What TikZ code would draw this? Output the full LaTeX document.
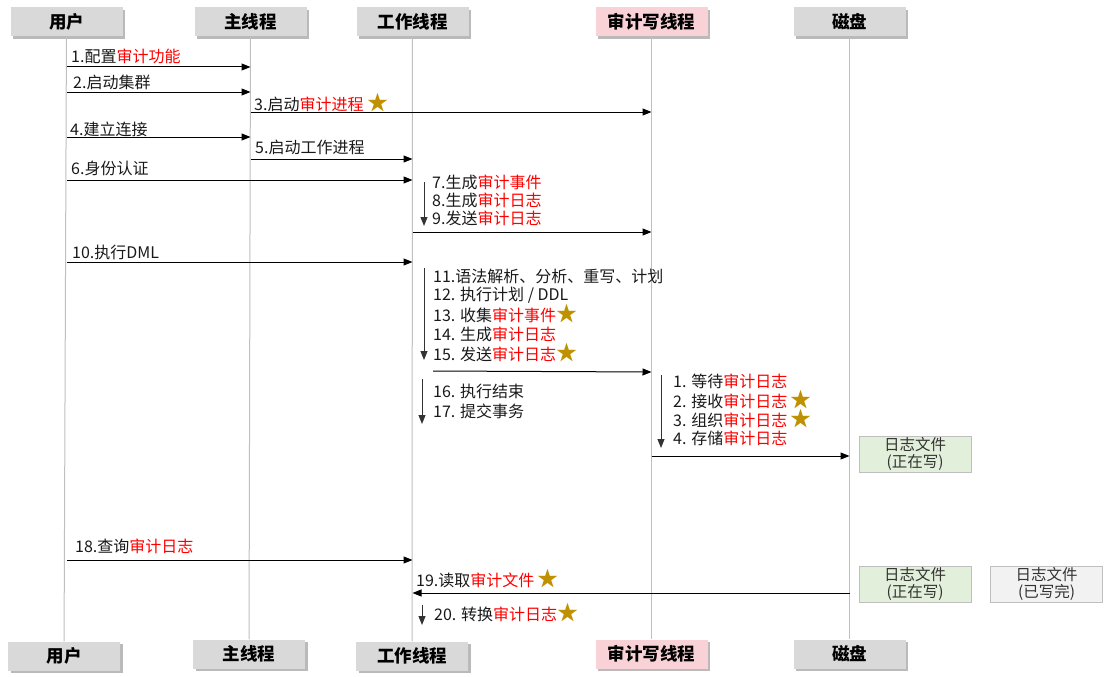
\documentclass[tikz,border=0pt]{standalone}
\usepackage{fontspec}
\setmainfont{Noto Sans CJK SC}
\usetikzlibrary{arrows.meta,shadows}
\definecolor{hdgray}{HTML}{D9D9D9}
\definecolor{hdpink}{HTML}{F9D2D7}
\definecolor{lifegray}{HTML}{BFBFBF}
\definecolor{redtxt}{HTML}{FF0000}
\definecolor{stargold}{HTML}{BF9000}
\definecolor{filegreen}{HTML}{E2EFDA}
\definecolor{filegray}{HTML}{F2F2F2}
\newcommand{\hl}[1]{\textcolor{redtxt}{#1}}
\newcommand{\gstar}{\textcolor{stargold}{\fontsize{21}{21}\selectfont ★}}
\tikzset{
  hd/.style={fill=hdgray,minimum width=112pt,minimum height=29pt,inner sep=0pt,
    font=\fontsize{17.5}{17}\selectfont\bfseries,
    drop shadow={shadow xshift=2.5pt,shadow yshift=-2.5pt,fill=black!60,opacity=.45}},
  life/.style={draw=lifegray,line width=1pt},
  msg/.style={-{Triangle[length=9pt,width=7pt]},line width=1pt},
  down/.style={-{Triangle[length=9pt,width=7pt]},line width=1pt,black!80},
  lbl/.style={anchor=west,inner sep=0pt,text=black!90,font=\fontsize{16}{18}\selectfont},
  logfile/.style={draw=black!25,line width=.8pt,fill=filegreen,minimum width=112pt,
    minimum height=36pt,inner sep=0pt,align=center,text=black!80,font=\fontsize{15.5}{17}\selectfont}
}
\begin{document}
\begin{tikzpicture}[x=1pt,y=-1pt]
\useasboundingbox (0,0) rectangle (1111,677);
% heads
\node[hd](user)at(66.5,22){用户};
\node[hd](main)at(250.5,22){主线程};
\node[hd](work)at(412.5,22){工作线程};
\node[hd,fill=hdpink](audit)at(651.5,22){审计写线程};
\node[hd](disk)at(849.5,22){磁盘};
\node[hd](userb)at(64,656){用户};
\node[hd](mainb)at(249,654){主线程};
\node[hd](workb)at(412,656){工作线程};
\node[hd,fill=hdpink](auditb)at(651.5,654){审计写线程};
\node[hd](diskb)at(849.5,654){磁盘};
% lifelines
\foreach \a in {user,main,work,audit,disk}
  \draw[life](\a)--(\a b);
% start up
\node[lbl](l1)at(71,56){1.配置\hl{审计功能}};
\draw[msg](user|-0,67)--(main|-0,67);
\node[lbl](l2)at(73,82){2.启动集群};
\draw[msg](user|-0,92)--(main|-0,92);
\node[lbl](l3)at(254,103){3.启动\hl{审计进程} \gstar};
\draw[msg](main|-0,112)--(audit|-0,112);
\node[lbl](l4)at(70,129){4.建立连接};
\draw[msg](user|-0,137)--(main|-0,137);
\node[lbl](l5)at(255,147){5.启动工作进程};
\draw[msg](main|-0,159)--(work|-0,159);
\node[lbl](l6)at(71,168){6.身份认证};
\draw[msg](user|-0,180)--(work|-0,180);
\node[lbl](l7)at(432,182){7.生成\hl{审计事件}};
\node[lbl](l8)at(432,200){8.生成\hl{审计日志}};
\node[lbl](l9)at(432,218){9.发送\hl{审计日志}};
\draw[down]([xshift=-8pt]l7.west)--([xshift=-8pt,yshift=-8pt]l9.west);
\draw[msg](work|-0,232)--(audit|-0,232);
% DML
\node[lbl](l10)at(72,252){10.执行DML};
\draw[msg](user|-0,262)--(work|-0,262);
\node[lbl](l11)at(433,276){11.语法解析、分析、重写、计划};
\node[lbl](l12)at(433,295){12. 执行计划 / DDL};
\node[lbl](l13)at(433,314){13. 收集\hl{审计事件}\gstar};
\node[lbl](l14)at(433,334){14. 生成\hl{审计日志}};
\node[lbl](l15)at(433,353){15. 发送\hl{审计日志}\gstar};
\draw[down]([xshift=-9pt,yshift=8pt]l11.west)--([xshift=-9pt,yshift=-7pt]l15.west);
\draw[msg]([yshift=-18pt]l15.west)--(audit|-0,372);
\node[lbl](l16)at(433,391){16. 执行结束};
\node[lbl](l17)at(433,411){17. 提交事务};
\draw[down]([xshift=-11pt,yshift=12pt]l16.west)--([xshift=-11pt,yshift=-13pt]l17.west);
% audit thread
\node[lbl](a1)at(673,381){1. 等待\hl{审计日志}};
\node[lbl](a2)at(673,400){2. 接收\hl{审计日志} \gstar};
\node[lbl](a3)at(673,419){3. 组织\hl{审计日志} \gstar};
\node[lbl](a4)at(673,438){4. 存储\hl{审计日志}};
\draw[down]([xshift=-12pt,yshift=6pt]a1.west)--([xshift=-12pt,yshift=-10pt]a4.west);
\draw[msg](audit|-0,456)--(disk|-0,456);
\node[logfile](f1)at(915,454){日志文件\\(正在写)};
% query
\node[lbl](l18)at(75,546){18.查询\hl{审计日志}};
\draw[msg](user|-0,560)--(work|-0,560);
\node[lbl](l19)at(416,579){19.读取\hl{审计文件} \gstar};
\draw[msg](disk|-0,593)--(work|-0,593);
\node[logfile](f2)at(915,584){日志文件\\(正在写)};
\node[logfile,fill=filegray](f3)at(1046.5,584){日志文件\\(已写完)};
\node[lbl](l20)at(434,613){20. 转换\hl{审计日志}\gstar};
\draw[down]([xshift=-12pt,yshift=8pt]l20.west)--([xshift=-12pt,yshift=-12pt]l20.west);
\end{tikzpicture}
\end{document}
